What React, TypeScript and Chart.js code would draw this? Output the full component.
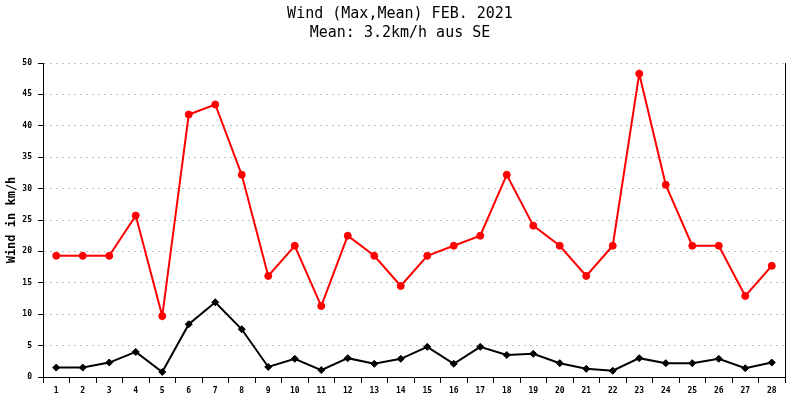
import { useEffect, useRef } from "react";
import { Chart, registerables } from "chart.js";

Chart.register(...registerables);

const days = [
  "1", "2", "3", "4", "5", "6", "7", "8", "9", "10", "11", "12", "13", "14",
  "15", "16", "17", "18", "19", "20", "21", "22", "23", "24", "25", "26", "27", "28",
];

// max gust per day (km/h)
const windMax = [
  19.3, 19.3, 19.3, 25.7, 9.7, 41.8, 43.4, 32.2, 16.1, 20.9, 11.3, 22.5, 19.3, 14.5,
  19.3, 20.9, 22.5, 32.2, 24.1, 20.9, 16.1, 20.9, 48.3, 30.6, 20.9, 20.9, 12.9, 17.7,
];

// mean wind per day (km/h)
const windMean = [
  1.5, 1.5, 2.3, 4.0, 0.8, 8.4, 11.9, 7.6, 1.6, 2.9, 1.1, 3.0, 2.1, 2.9,
  4.8, 2.1, 4.8, 3.5, 3.7, 2.2, 1.3, 1.0, 3.0, 2.2, 2.2, 2.9, 1.4, 2.3,
];

const titleLines = ["Wind (Max,Mean) FEB. 2021", "Mean: 3.2km/h aus SE"];

const WindChart = () => {
  const chartRef = useRef<HTMLCanvasElement>(null);
  const chartInstanceRef = useRef<Chart>();

  useEffect(() => {
    if (!chartRef.current) return;
    const ctx = chartRef.current.getContext("2d");

    Chart.defaults.font.family = "'DejaVu Sans Mono', monospace";
    Chart.defaults.color = "#000";

    if (chartInstanceRef.current) {
      chartInstanceRef.current.destroy();
    }

    chartInstanceRef.current = new Chart(ctx!, {
      type: "line",
      data: {
        labels: days,
        datasets: [
          {
            label: "Max",
            data: windMax,
            borderColor: "#ff0000",
            backgroundColor: "#ff0000",
            borderWidth: 2,
            pointStyle: "circle",
            pointRadius: 3.5,
            pointBorderWidth: 1,
            tension: 0,
          },
          {
            label: "Mean",
            data: windMean,
            borderColor: "#000000",
            backgroundColor: "#000000",
            borderWidth: 2,
            pointStyle: "rectRot",
            pointRadius: 3.5,
            pointBorderWidth: 1,
            tension: 0,
          },
        ],
      },
      options: {
        animation: false,
        responsive: false,
        layout: { padding: 0 },
        plugins: {
          legend: { display: false },
          tooltip: { enabled: false },
          title: {
            display: true,
            text: titleLines,
            color: "#000",
            font: { size: 15, weight: "normal", lineHeight: 1.3 },
            padding: { top: 4, bottom: 20 },
          },
        },
        scales: {
          x: {
            offset: true,
            grid: {
              offset: true,
              drawOnChartArea: false,
              tickLength: 6,
              tickColor: "#000",
            },
            border: { color: "#000", width: 1 },
            ticks: {
              font: { size: 8, weight: "bold" },
              padding: 3,
              maxRotation: 0,
              autoSkip: false,
            },
            afterFit: (scale: any) => {
              scale.height = 23;
            },
          },
          y: {
            min: 0,
            max: 50,
            grid: {
              color: "#c0c0c0",
              tickColor: "#000",
              tickLength: 5,
              tickBorderDash: [],
            },
            border: { color: "#000", width: 1, dash: [2, 4] },
            ticks: {
              stepSize: 5,
              font: { size: 8, weight: "bold" },
              padding: 6,
            },
            title: {
              display: true,
              text: "Wind in km/h",
              font: { size: 12, weight: "bold" },
              padding: { top: 5, bottom: 0 },
            },
            afterFit: (scale: any) => {
              scale.width = 43;
            },
          },
          y2: {
            position: "right",
            min: 0,
            max: 50,
            grid: { display: false },
            border: { display: true, color: "#000", width: 1 },
            ticks: { display: false },
            afterFit: (scale: any) => {
              scale.width = 15;
            },
          },
        },
      },
    });

    return () => {
      if (chartInstanceRef.current) {
        chartInstanceRef.current.destroy();
      }
    };
  }, []);

  return (
    <div style={{ position: "absolute", left: 0, top: 0, width: 800, height: 400, background: "#fff" }}>
      <canvas ref={chartRef} width={800} height={400}></canvas>
    </div>
  );
};

export default function App() {
  return <WindChart />;
}
